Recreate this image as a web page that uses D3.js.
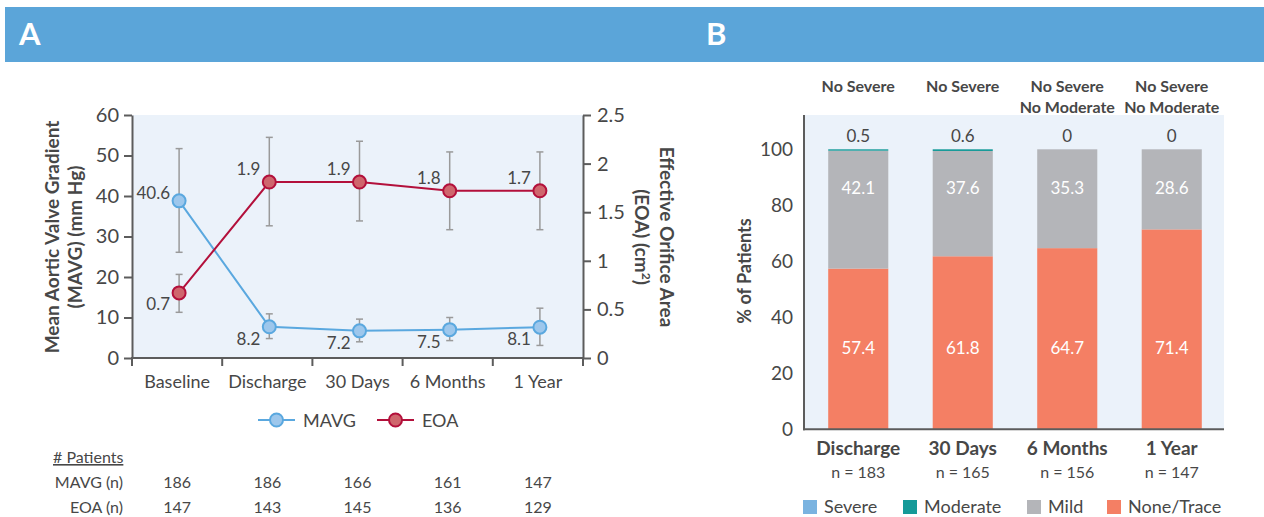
<!DOCTYPE html>
<html><head><meta charset="utf-8">
<script src="https://cdn.jsdelivr.net/npm/d3@7"></script>
<style>
body{margin:0;background:#fff;}
svg{display:block;font-family:Lato,'Open Sans',sans-serif;}
</style>
</head><body>
<svg id="c" width="1264" height="517"></svg>
<script>
// ---------- Panel A data ----------
const timepointsA = ["Baseline", "Discharge", "30 Days", "6 Months", "1 Year"];
const mavgMean   = [38.8, 7.7, 6.7, 7.0, 7.6];
const mavgLabels = ["40.6", "8.2", "7.2", "7.5", "8.1"];
const mavgLow    = [26.1, 4.8, 4.0, 4.3, 3.1];
const mavgHigh   = [51.7, 10.9, 9.6, 10.0, 12.3];
const eoaMean    = [0.67, 1.81, 1.81, 1.72, 1.72];
const eoaLabels  = ["0.7", "1.9", "1.9", "1.8", "1.7"];
const eoaLow     = [0.47, 1.36, 1.41, 1.32, 1.32];
const eoaHigh    = [0.86, 2.27, 2.23, 2.12, 2.12];
const mavgN      = [186, 186, 166, 161, 147];
const eoaN       = [147, 143, 145, 136, 129];
const mavgTicks  = [0, 10, 20, 30, 40, 50, 60];
const eoaTicks   = [0, 0.5, 1, 1.5, 2, 2.5];

// ---------- Panel B data ----------
const timepointsB = ["Discharge", "30 Days", "6 Months", "1 Year"];
const nB        = [183, 165, 156, 147];
const severe    = [0, 0, 0, 0];
const moderate  = [0.5, 0.6, 0, 0];
const mild      = [42.1, 37.6, 35.3, 28.6];
const noneTrace = [57.4, 61.8, 64.7, 71.4];
const notes     = [["No Severe"], ["No Severe"], ["No Severe", "No Moderate"], ["No Severe", "No Moderate"]];
const pctTicks  = [0, 20, 40, 60, 80, 100];
const gradeNames = ["Severe", "Moderate", "Mild", "None/Trace"];

// ---------- styles ----------
const TXT = "#474747", AX = "#5c5c5c", BG = "#ebf2fa";
const BLUE = "#5aa8df", BLUEF = "#9dc7ec", RED = "#b3103b", REDF = "#cf666d";
const gradeColors = {"Severe": "#7ab3e0", "Moderate": "#159a98", "Mild": "#b4b5b9", "None/Trace": "#f47f64"};

const svg = d3.select("#c");

// header band
svg.append("rect").attr("x", 5).attr("y", 7).attr("width", 1259).attr("height", 55).attr("fill", "#5ba5d9");
svg.append("text").attr("x", 19).attr("y", 45).attr("fill", "#fff").attr("font-weight", 700).attr("font-size", 31).text("A");
svg.append("text").attr("x", 706).attr("y", 45).attr("fill", "#fff").attr("font-weight", 700).attr("font-size", 31).text("B");

// ================= Panel A =================
const xA = d3.scaleBand().domain(timepointsA).range([132, 583]);
const yL = d3.scaleLinear().domain([0, 60]).range([358, 115]);
const yR = d3.scaleLinear().domain([0, 2.5]).range([358, 115]);
const cx = d => xA(d) + xA.bandwidth() / 2 + 2;

const gA = svg.append("g");
gA.append("rect").attr("x", 132).attr("y", 115).attr("width", 451).attr("height", 243).attr("fill", BG);

function styleAxis(g, fs) {
  g.select(".domain").attr("stroke", AX).attr("stroke-width", 2);
  g.selectAll(".tick line").attr("stroke", AX).attr("stroke-width", 2);
  g.selectAll(".tick text").attr("fill", TXT).attr("font-size", fs).attr("font-family", "Lato, sans-serif");
}

const axL = gA.append("g").attr("transform", "translate(132,0)")
  .call(d3.axisLeft(yL).tickValues(mavgTicks).tickSize(8).tickSizeOuter(0).tickPadding(5));
styleAxis(axL, 20);
const axR = gA.append("g").attr("transform", "translate(583,0)")
  .call(d3.axisRight(yR).tickValues(eoaTicks).tickFormat(d => d).tickSize(8).tickSizeOuter(0).tickPadding(6));
styleAxis(axR, 20);
const axB = gA.append("g").attr("transform", "translate(0,358)")
  .call(d3.axisBottom(xA).tickSize(0).tickPadding(17).tickSizeOuter(0));
styleAxis(axB, 18);
axB.select(".domain").attr("d", "M131,0H584");
// boundary ticks
gA.selectAll(".btick").data(d3.range(timepointsA.length + 1)).join("line")
  .attr("x1", i => 132 + i * xA.step()).attr("x2", i => 132 + i * xA.step())
  .attr("y1", 358).attr("y2", 366).attr("stroke", AX).attr("stroke-width", 2);

// axis titles
const tl = gA.append("text").attr("transform", "translate(59,237) rotate(-90)")
  .attr("text-anchor", "middle").attr("fill", TXT).attr("font-weight", 700).attr("font-size", 19);
tl.append("tspan").attr("x", 0).attr("dy", 0).text("Mean Aortic Valve Gradient");
tl.append("tspan").attr("x", 0).attr("dy", 23).text("(MAVG) (mm Hg)");
const tr = gA.append("text").attr("transform", "translate(660,237) rotate(90)")
  .attr("text-anchor", "middle").attr("fill", TXT).attr("font-weight", 700).attr("font-size", 19);
tr.append("tspan").attr("x", 0).attr("dy", 0).text("Effective Orifice Area");
const t2 = tr.append("tspan").attr("x", 0).attr("dy", 25);
t2.append("tspan").text("(EOA) (cm");
t2.append("tspan").attr("font-size", 12).attr("dy", -7).text("2");
t2.append("tspan").attr("dy", 7).text(")");

// error bars
function errBars(low, high, scale) {
  timepointsA.forEach((t, i) => {
    const x = cx(t);
    gA.append("line").attr("x1", x).attr("x2", x).attr("y1", scale(low[i])).attr("y2", scale(high[i]))
      .attr("stroke", "#9a9a9a").attr("stroke-width", 1.5);
    [low[i], high[i]].forEach(v => gA.append("line").attr("x1", x - 3.5).attr("x2", x + 3.5)
      .attr("y1", scale(v)).attr("y2", scale(v)).attr("stroke", "#9a9a9a").attr("stroke-width", 1.5));
  });
}
errBars(mavgLow, mavgHigh, yL);
errBars(eoaLow, eoaHigh, yR);

function series(vals, scale, stroke, fill) {
  const line = d3.line().x((d, i) => cx(timepointsA[i])).y(d => scale(d));
  gA.append("path").datum(vals).attr("d", line).attr("fill", "none").attr("stroke", stroke).attr("stroke-width", 2);
  gA.selectAll(null).data(vals).join("circle")
    .attr("cx", (d, i) => cx(timepointsA[i])).attr("cy", d => scale(d)).attr("r", 6.5)
    .attr("fill", fill).attr("stroke", stroke).attr("stroke-width", 2);
}
series(mavgMean, yL, BLUE, BLUEF);
series(eoaMean, yR, RED, REDF);

// value labels: upper series above-left, lower series below-left
function valueLabels(vals, labels, scale, otherVals, otherScale) {
  vals.forEach((v, i) => {
    const y = scale(v), yo = otherScale(otherVals[i]);
    const upper = y < yo;
    let dy = upper ? -7 : 18;
    if (i === 0) dy = upper ? -2 : 17;
    gA.append("text").attr("x", cx(timepointsA[i]) - 9).attr("y", y + dy)
      .attr("text-anchor", "end").attr("fill", TXT).attr("font-size", 17).text(labels[i]);
  });
}
valueLabels(mavgMean, mavgLabels, yL, eoaMean, yR);
valueLabels(eoaMean, eoaLabels, yR, mavgMean, yL);

// legend A
const legA = [{name: "MAVG", s: BLUE, f: BLUEF, x: 258}, {name: "EOA", s: RED, f: REDF, x: 377}];
legA.forEach(d => {
  gA.append("line").attr("x1", d.x).attr("x2", d.x + 37).attr("y1", 420).attr("y2", 420).attr("stroke", d.s).attr("stroke-width", 2);
  gA.append("circle").attr("cx", d.x + 18.5).attr("cy", 420).attr("r", 6.5).attr("fill", d.f).attr("stroke", d.s).attr("stroke-width", 2);
  gA.append("text").attr("x", d.x + 45).attr("y", 426.5).attr("fill", TXT).attr("font-size", 18).text(d.name);
});

// patients table
gA.append("text").attr("x", 53).attr("y", 463).attr("fill", TXT).attr("font-size", 16)
  .attr("text-decoration", "underline").text("# Patients");
[["MAVG (n)", mavgN, 488], ["EOA (n)", eoaN, 513]].forEach(([lab, arr, y]) => {
  gA.append("text").attr("x", 123).attr("y", y).attr("text-anchor", "end").attr("fill", TXT).attr("font-size", 16).text(lab);
  arr.forEach((n, i) => gA.append("text").attr("x", xA(timepointsA[i]) + xA.bandwidth() / 2).attr("y", y)
    .attr("text-anchor", "middle").attr("fill", TXT).attr("font-size", 16).text(n));
});

// ================= Panel B =================
const gB = svg.append("g");
const xB = d3.scaleBand().domain(timepointsB).range([806, 1224]).paddingInner(0.425).paddingOuter(0.2125);
const yB = d3.scaleLinear().domain([0, 100]).range([429.3, 149.3]);
const yTop = 115;
gB.append("rect").attr("x", 804).attr("y", yTop).attr("width", 420).attr("height", 429.3 - yTop).attr("fill", BG);

const stackData = timepointsB.map((t, i) => ({t, "None/Trace": noneTrace[i], "Mild": mild[i], "Moderate": moderate[i], "Severe": severe[i]}));
const stack = d3.stack().keys(["None/Trace", "Mild", "Moderate", "Severe"])(stackData);
stack.forEach(layer => {
  gB.selectAll(null).data(layer).join("rect")
    .attr("x", d => xB(d.data.t)).attr("width", xB.bandwidth())
    .attr("y", d => yB(d[1])).attr("height", d => yB(d[0]) - yB(d[1]))
    .attr("fill", gradeColors[layer.key]);
});

const axBL = gB.append("g").attr("transform", "translate(804,0)")
  .call(d3.axisLeft(yB).tickValues(pctTicks).tickSize(0).tickPadding(11));
styleAxis(axBL, 19);
axBL.select(".domain").attr("d", `M0,${yTop}V430.3`);
const axBB = gB.append("g").attr("transform", "translate(0,429.3)")
  .call(d3.axisBottom(xB).tickSize(0).tickPadding(12));
styleAxis(axBB, 19);
axBB.select(".domain").attr("d", "M803,0H1224");
axBB.selectAll(".tick text").attr("font-weight", 700);
// n = labels
gB.selectAll(null).data(timepointsB).join("text")
  .attr("x", d => xB(d) + xB.bandwidth() / 2).attr("y", 478).attr("text-anchor", "middle")
  .attr("fill", TXT).attr("font-size", 16).text((d, i) => "n = " + nB[i]);

// in-bar labels
const bc = d => xB(d) + xB.bandwidth() / 2;
timepointsB.forEach((t, i) => {
  gB.append("text").attr("x", bc(t)).attr("y", yB(86.2) + 6).attr("text-anchor", "middle")
    .attr("fill", "#fff").attr("font-size", 17).text(mild[i]);
  gB.append("text").attr("x", bc(t)).attr("y", yB(29) + 6).attr("text-anchor", "middle")
    .attr("fill", "#fff").attr("font-size", 17).text(noneTrace[i]);
  gB.append("text").attr("x", bc(t)).attr("y", 142).attr("text-anchor", "middle")
    .attr("fill", TXT).attr("font-size", 17).text(moderate[i]);
  notes[i].forEach((n, j) => gB.append("text").attr("x", bc(t)).attr("y", 92 + j * 20.5)
    .attr("text-anchor", "middle").attr("fill", TXT).attr("font-weight", 700).attr("font-size", 16).text(n));
});

// y title B
gB.append("text").attr("transform", "translate(751,271) rotate(-90)").attr("text-anchor", "middle")
  .attr("fill", TXT).attr("font-weight", 700).attr("font-size", 18).text("% of Patients");

// legend B
const legX = [803, 903, 1027, 1107];
gradeNames.forEach((g, i) => {
  gB.append("rect").attr("x", legX[i]).attr("y", 500).attr("width", 14).attr("height", 14).attr("fill", gradeColors[g]);
  gB.append("text").attr("x", legX[i] + 21).attr("y", 512.5).attr("fill", TXT).attr("font-size", 18).text(g);
});
</script>
</body></html>
